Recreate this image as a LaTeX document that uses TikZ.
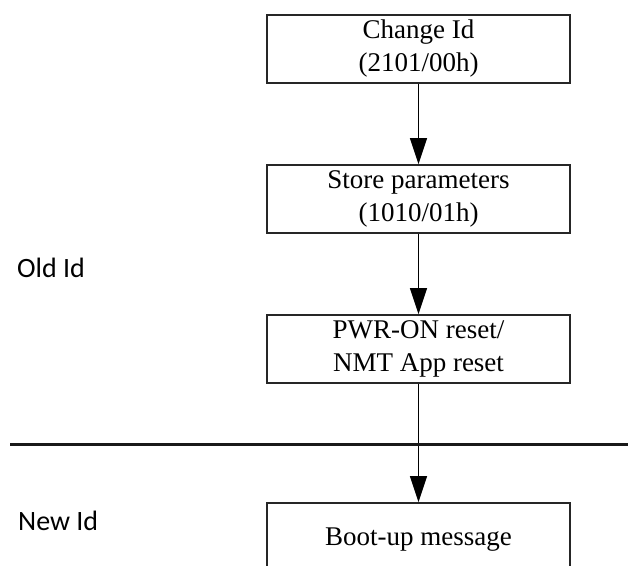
\documentclass[tikz,border=0pt]{standalone}
\usepackage{fontspec}
\setmainfont{Liberation Serif}
\newfontfamily\labelfont{Carlito}
\usetikzlibrary{arrows.meta}
\begin{document}
\begin{tikzpicture}[x=1pt,y=-1pt,
  stepbox/.style={draw=black!85, line width=1.8pt, minimum width=303pt,
    minimum height=68pt, inner sep=0pt, align=center,
    font=\fontsize{27}{33}\selectfont},
  flow/.style={line width=1.3pt, -{Triangle[length=26pt,width=17pt]}},
  rule/.style={line width=3pt, black!90},
  side/.style={anchor=base west, inner sep=0pt,
    font=\labelfont\fontsize{28}{32}\selectfont}]
\useasboundingbox (0,0) rectangle (628,565);

% process steps
\node[stepbox] (change) at (418.5,49)  {Change Id\\(2101/00h)};
\node[stepbox] (store)  at (418.5,199) {Store parameters\\(1010/01h)};
\node[stepbox] (reset)  at (418.5,349) {PWR-ON reset/\\NMT App reset};
\node[stepbox, minimum height=74pt] (boot) at (418.5,540) {Boot-up message};

% flow between steps
\draw[flow] (change) -- (store);
\draw[flow] (store) -- (reset);
\draw[flow] (reset) -- (boot);

% separator between the old and the new identifier
\coordinate (ruleL) at (10,444);
\coordinate (ruleR) at (628,444);
\draw[rule] (ruleL) -- (ruleR);

% side labels
\node[side] (old) at (17,277) {Old Id};
\node[side] (new) at (18,530) {New Id};
\end{tikzpicture}
\end{document}
